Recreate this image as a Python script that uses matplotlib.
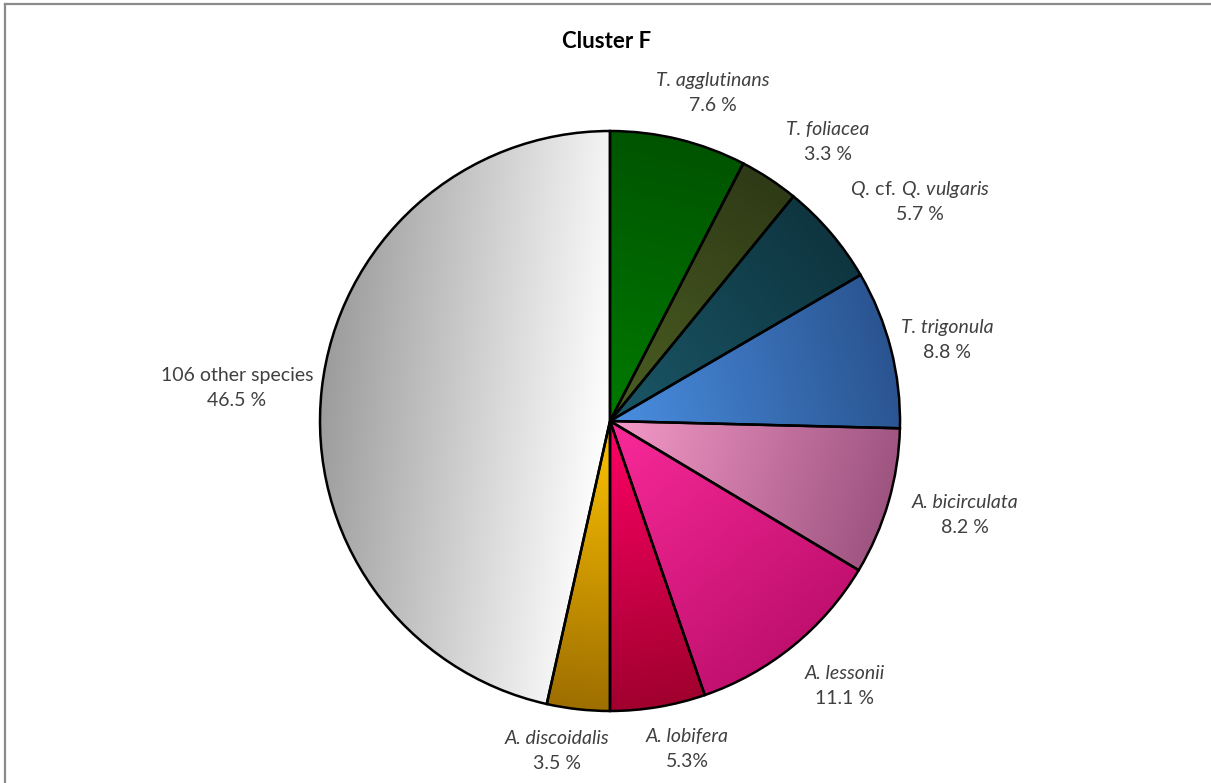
import numpy as np
import matplotlib
matplotlib.use("Agg")
import matplotlib.pyplot as plt
from matplotlib.colors import to_rgb
from matplotlib.lines import Line2D

plt.rcParams['font.family'] = ['Lato', 'DejaVu Sans']
plt.rcParams['mathtext.fontset'] = 'custom'
plt.rcParams['mathtext.it'] = 'Lato:italic'
plt.rcParams['mathtext.rm'] = 'Lato'

# data
names = ["T. agglutinans",
         "T. foliacea",
         r"$\mathit{Q.}\!\ \mathrm{cf.}\!\ \mathit{Q.}\!\ \mathit{vulgaris}$",
         "T. trigonula",
         "A. bicirculata",
         "A. lessonii",
         "A. lobifera",
         "A. discoidalis",
         "106 other species"]
italic = [True, True, False, True, True, True, True, True, False]
values = [7.6, 3.3, 5.7, 8.8, 8.2, 11.1, 5.3, 3.5, 46.5]
pct_labels = ["7.6 %", "3.3 %", "5.7 %", "8.8 %", "8.2 %", "11.1 %", "5.3%", "3.5 %", "46.5 %"]

# gradient colours: near the centre -> at the rim
light = ["#007a00", "#4b5f22", "#1b5767", "#4a8fe2", "#f69ac9", "#fa2a9a", "#ff0066", "#ffc400", "#ffffff"]
dark = ["#005400", "#2f3a16", "#0e3540", "#2a5490", "#9e5480", "#c0106e", "#a0002e", "#9e6e00", "#9c9c9c"]

# label spots in pie units (radius = 1)
label_xy = [(0.355, 1.131), (0.752, 0.962), (1.069, 0.755), (1.162, 0.279),
            (1.224, -0.324), (0.810, -0.914), (0.266, -1.131), (-0.183, -1.138),
            (-1.286, 0.114)]

fig = plt.figure(figsize=(12.11, 7.83), dpi=100)
ax = fig.add_axes([0, 0, 1, 1])

wedges, _ = ax.pie(values, startangle=90, counterclock=False, radius=1,
                   wedgeprops=dict(facecolor="none", edgecolor="black", linewidth=1.8))

# gradient fill, clipped to each wedge
n = 600
xs = np.linspace(-1, 1, n)
X, Y = np.meshgrid(xs, xs[::-1])
for w, c0, c1 in zip(wedges, light, dark):
    mid = np.deg2rad((w.theta1 + w.theta2) / 2)
    t = np.clip(X * np.cos(mid) + Y * np.sin(mid), 0, 1)[..., None]
    img = np.array(to_rgb(c0)) + (np.array(to_rgb(c1)) - np.array(to_rgb(c0))) * t
    im = ax.imshow(img, extent=[-1, 1, -1, 1], zorder=0.5, interpolation="bilinear")
    im.set_clip_path(w)
    w.set_zorder(2)

ax.set_xlim(-610 / 290, 601 / 290)
ax.set_ylim(-362 / 290, 421 / 290)
ax.set_aspect("equal")
ax.axis("off")

dy = 12.5 / 290
for name, it, pct, (x, y) in zip(names, italic, pct_labels, label_xy):
    ax.text(x, y + dy, name, ha="center", va="center", fontsize=14, color="#404040",
            fontstyle="italic" if it else "normal")
    ax.text(x, y - dy, pct, ha="center", va="center", fontsize=14, color="#404040")

fig.text(607 / 1211, 1 - 42 / 783, "Cluster F", ha="center", va="center",
         fontsize=16, fontweight="bold", color="black")

# chart frame (top and left edges only visible)
fig.add_artist(Line2D([4.5 / 1211, 1], [1 - 3.5 / 783, 1 - 3.5 / 783], color="#8a8a8a", lw=1.6))
fig.add_artist(Line2D([4.5 / 1211, 4.5 / 1211], [0, 1 - 3.5 / 783], color="#8a8a8a", lw=1.6))

fig.savefig("out.png", dpi=100)
